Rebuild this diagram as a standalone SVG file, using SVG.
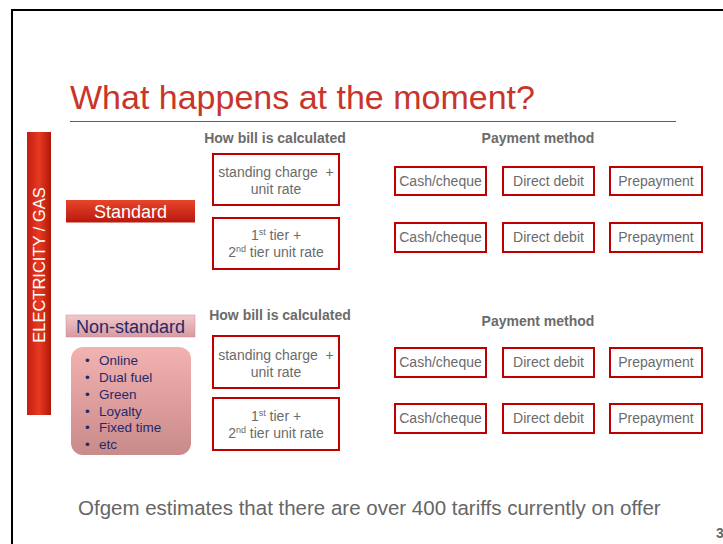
<svg xmlns="http://www.w3.org/2000/svg" width="723" height="544" viewBox="0 0 723 544">
<defs>
<linearGradient id="gRed" x1="0" y1="0" x2="0" y2="1"><stop offset="0" stop-color="#E8452C"/><stop offset="1" stop-color="#B8180E"/></linearGradient>
<linearGradient id="gBar" x1="0" y1="0" x2="1" y2="0"><stop offset="0" stop-color="#C41E10"/><stop offset="0.5" stop-color="#E63A22"/><stop offset="1" stop-color="#B01808"/></linearGradient>
<linearGradient id="gPink" x1="0" y1="0" x2="0" y2="1"><stop offset="0" stop-color="#F2C8CA"/><stop offset="1" stop-color="#D89A9E"/></linearGradient>
<linearGradient id="gList" x1="0" y1="0" x2="0" y2="1"><stop offset="0" stop-color="#F2B2B0"/><stop offset="1" stop-color="#C98A8A"/></linearGradient>
<style>
.box{fill:#fff;stroke:#C00000;stroke-width:2}
.t{font-family:"Liberation Sans",Arial,sans-serif;fill:#6B6B6B;font-size:14px;text-anchor:middle}
.h{font-family:"Liberation Sans",Arial,sans-serif;fill:#6B6B6B;font-size:14px;font-weight:bold;text-anchor:middle}
.p{font-family:"Liberation Sans",Arial,sans-serif;fill:#6B6B6B;font-size:14px;text-anchor:middle}
.l{font-family:"Liberation Sans",Arial,sans-serif;fill:#1F2A6B;font-size:13.5px}
</style>
</defs>
<rect width="723" height="544" fill="#fff"/>
<path d="M12,544 V10 H723" fill="none" stroke="#000" stroke-width="2"/>
<g id="title">
<text x="70" y="109" font-family="Liberation Sans,Arial,sans-serif" font-size="34" fill="#C8352B">What happens at the moment?</text>
<line x1="70" y1="121.5" x2="676" y2="121.5" stroke="#C8352B" stroke-width="1"/>
</g>
<g id="bar">
<rect x="27" y="132" width="24" height="283" fill="url(#gBar)"/>
<text transform="translate(45,265) rotate(-90)" font-family="Liberation Sans,Arial,sans-serif" font-size="16.5" fill="#fff" text-anchor="middle">ELECTRICITY / GAS</text>
</g>
<g id="standard">
<rect x="66" y="200" width="129" height="22.5" fill="url(#gRed)"/>
<text x="130.5" y="218" font-family="Liberation Sans,Arial,sans-serif" font-size="18" fill="#fff" text-anchor="middle">Standard</text>
</g>
<g id="nonstandard">
<rect x="66" y="315" width="129" height="22" fill="url(#gPink)" stroke="#C89094" stroke-width="0.5"/>
<text x="130.5" y="333" font-family="Liberation Sans,Arial,sans-serif" font-size="18" fill="#1F2A6B" text-anchor="middle">Non-standard</text>
</g>
<g id="list">
<rect x="71" y="347" width="120" height="108" rx="12" fill="url(#gList)"/>
<g class="l">
<text x="85" y="365">•</text><text x="99" y="365">Online</text>
<text x="85" y="382">•</text><text x="99" y="382">Dual fuel</text>
<text x="85" y="399">•</text><text x="99" y="399">Green</text>
<text x="85" y="416">•</text><text x="99" y="416">Loyalty</text>
<text x="85" y="432">•</text><text x="99" y="432">Fixed time</text>
<text x="85" y="449">•</text><text x="99" y="449">etc</text>
</g>
</g>
<g id="headers">
<text class="h" x="275" y="143">How bill is calculated</text>
<text class="h" x="538" y="143">Payment method</text>
<text class="h" x="280" y="320">How bill is calculated</text>
<text class="h" x="538" y="326">Payment method</text>
</g>
<g id="calc1">
<rect class="box" x="213" y="154" width="126" height="51"/>
<text class="t" x="276" y="177" xml:space="preserve">standing charge  +</text>
<text class="t" x="276" y="194">unit rate</text>
</g>
<g id="calc2">
<rect class="box" x="213" y="218" width="126" height="51"/>
<text class="t" x="276" y="240">1<tspan font-size="9" dy="-5">st</tspan><tspan dy="5"> tier +</tspan></text>
<text class="t" x="276" y="257">2<tspan font-size="9" dy="-5">nd</tspan><tspan dy="5"> tier unit rate</tspan></text>
</g>
<g id="calc3">
<rect class="box" x="213" y="336" width="126" height="52"/>
<text class="t" x="276" y="360" xml:space="preserve">standing charge  +</text>
<text class="t" x="276" y="377">unit rate</text>
</g>
<g id="calc4">
<rect class="box" x="213" y="398" width="126" height="52"/>
<text class="t" x="276" y="421">1<tspan font-size="9" dy="-5">st</tspan><tspan dy="5"> tier +</tspan></text>
<text class="t" x="276" y="438">2<tspan font-size="9" dy="-5">nd</tspan><tspan dy="5"> tier unit rate</tspan></text>
</g>
<g id="pay1">
<rect class="box" x="395" y="167" width="91" height="28"/><text class="p" x="440.5" y="186">Cash/cheque</text>
<rect class="box" x="503" y="167" width="91" height="28"/><text class="p" x="548.5" y="186">Direct debit</text>
<rect class="box" x="610" y="167" width="92" height="28"/><text class="p" x="656" y="186">Prepayment</text>
</g>
<g id="pay2">
<rect class="box" x="395" y="223" width="91" height="29"/><text class="p" x="440.5" y="242">Cash/cheque</text>
<rect class="box" x="503" y="223" width="91" height="29"/><text class="p" x="548.5" y="242">Direct debit</text>
<rect class="box" x="610" y="223" width="92" height="29"/><text class="p" x="656" y="242">Prepayment</text>
</g>
<g id="pay3">
<rect class="box" x="395" y="348" width="91" height="29"/><text class="p" x="440.5" y="367">Cash/cheque</text>
<rect class="box" x="503" y="348" width="91" height="29"/><text class="p" x="548.5" y="367">Direct debit</text>
<rect class="box" x="610" y="348" width="92" height="29"/><text class="p" x="656" y="367">Prepayment</text>
</g>
<g id="pay4">
<rect class="box" x="395" y="404" width="91" height="29"/><text class="p" x="440.5" y="423">Cash/cheque</text>
<rect class="box" x="503" y="404" width="91" height="29"/><text class="p" x="548.5" y="423">Direct debit</text>
<rect class="box" x="610" y="404" width="92" height="29"/><text class="p" x="656" y="423">Prepayment</text>
</g>
<g id="connectors"></g>
<text x="78" y="515" font-family="Liberation Sans,Arial,sans-serif" font-size="20.5" fill="#666">Ofgem estimates that there are over 400 tariffs currently on offer</text>
<text x="716" y="538" font-family="Liberation Sans,Arial,sans-serif" font-size="14" font-weight="bold" fill="#666">3</text>
</svg>
